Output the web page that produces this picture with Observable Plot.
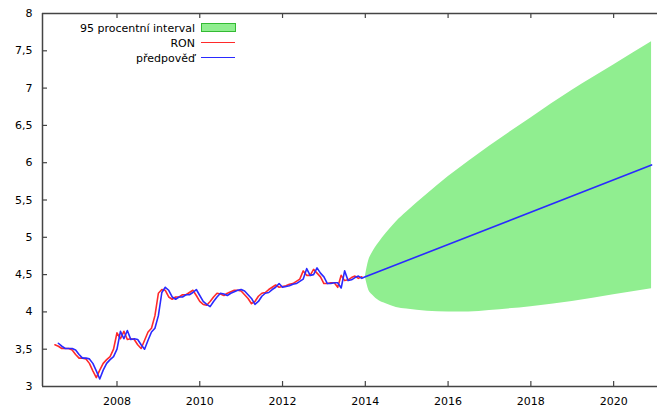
<!DOCTYPE html>
<html><head><meta charset="utf-8">
<script src="https://cdn.jsdelivr.net/npm/d3@7"></script>
<script src="https://cdn.jsdelivr.net/npm/@observablehq/plot@0.6"></script>
<style>
body{margin:0;background:#fff;}
#chart{position:relative;width:657px;height:415px;font-family:"DejaVu Sans",sans-serif;font-size:11px;color:#000;}
#chart svg{display:block;}
.row{position:absolute;left:0;width:195px;height:15px;line-height:15px;text-align:right;white-space:nowrap;}
.sw{position:absolute;left:201px;width:34px;}
</style>
</head><body><div id="chart"></div>
<script>
// monthly series, first value = July 2006
const ronStart = 2006.5;
const ron = [
 3.56,3.54,3.51,3.51,3.51,3.49,3.43,3.38,3.38,3.37,
 3.31,3.21,3.12,3.22,3.31,3.36,3.40,3.50,3.72,3.64,
 3.74,3.63,3.64,3.63,3.56,3.51,3.62,3.73,3.78,3.95,
 4.25,4.30,4.29,4.20,4.17,4.20,4.20,4.23,4.23,4.26,
 4.29,4.22,4.14,4.10,4.09,4.14,4.20,4.25,4.24,4.22,
 4.25,4.27,4.29,4.29,4.28,4.23,4.18,4.11,4.14,4.21,
 4.25,4.26,4.30,4.33,4.36,4.33,4.34,4.35,4.37,4.38,
 4.41,4.44,4.55,4.49,4.49,4.57,4.52,4.47,4.38,4.38,
 4.39,4.39,4.33,4.49,4.42,4.43,4.46,4.48,4.45,4.47
];
// one-step predictions, first value = August 2006, last = January 2014
const fittedStart = 2006.5 + 1/12;
const fitted = [
 3.58,3.54,3.51,3.51,3.51,3.49,3.43,3.38,3.38,3.37,
 3.31,3.21,3.10,3.22,3.31,3.36,3.40,3.50,3.74,3.64,
 3.75,3.63,3.64,3.63,3.56,3.50,3.62,3.73,3.78,3.95,
 4.26,4.33,4.29,4.20,4.17,4.20,4.20,4.23,4.23,4.26,
 4.30,4.22,4.14,4.10,4.07,4.14,4.20,4.25,4.24,4.22,
 4.25,4.27,4.29,4.30,4.28,4.23,4.18,4.10,4.14,4.21,
 4.25,4.26,4.30,4.33,4.38,4.33,4.34,4.35,4.37,4.38,
 4.41,4.44,4.58,4.49,4.50,4.59,4.52,4.47,4.38,4.38,
 4.39,4.39,4.32,4.55,4.42,4.43,4.46,4.48,4.45,4.47
];
// forecast end point (December 2020)
const forecastEndTime = 2020 + 11/12;
const forecastEndValue = 5.97;
// 95 % interval, months after January 2014
const bandMonths = [0,1,2,4,6,9,12,18,24,30,36,48,60,72,83];
const bandUpper  = [4.47,4.69,4.79,4.93,5.05,5.21,5.34,5.58,5.81,6.02,6.22,6.60,6.97,7.31,7.62];
const bandLower  = [4.47,4.29,4.23,4.15,4.11,4.06,4.04,4.01,4.00,4.00,4.02,4.07,4.14,4.23,4.31];
const xTicks = [2008,2010,2012,2014,2016,2018,2020];
const yTicks = [3,3.5,4,4.5,5,5.5,6,6.5,7,7.5,8];
const legendLabels = ["95 procentní interval","RON","předpověď"];

// build tables
const ronData = ron.map((v,i)=>({t: ronStart + i/12, v}));
const blueData = fitted.map((v,i)=>({t: fittedStart + i/12, v}));
blueData.push({t: forecastEndTime, v: forecastEndValue});
const band = bandMonths.map((m,i)=>({t: 2014 + m/12, hi: bandUpper[i], lo: bandLower[i]}));

const W = 657, H = 415, mL = 42, mR = 0, mT = 13, mB = 29;
const plotW = W - mL - mR, plotH = H - mT - mB;
const tickLen = 5;
const frame = "#444";
const xDom = [2006.2, 2021.06];

const svg = Plot.plot({
  width: W, height: H,
  marginLeft: mL, marginRight: mR, marginTop: mT, marginBottom: mB,
  style: {fontFamily: "DejaVu Sans, sans-serif", fontSize: "11px", color: "#000", background: "#fff", overflow: "visible"},
  x: {domain: xDom, axis: null},
  y: {domain: [3, 8], axis: null},
  marks: [
    Plot.areaY(band, {x: "t", y1: "lo", y2: "hi", fill: "#90ee90", curve: "monotone-x"}),
    Plot.line(ronData, {x: "t", y: "v", stroke: "#ff2a2a", strokeWidth: 1.6}),
    Plot.line(blueData, {x: "t", y: "v", stroke: "#2a2aff", strokeWidth: 1.6}),
    Plot.ruleY([3, 8], {stroke: frame, strokeWidth: 1.5}),
    Plot.ruleX([xDom[0]], {stroke: frame, strokeWidth: 1.5}),
    Plot.ruleY(yTicks.slice(1, -1), {y: d => d, stroke: frame, strokeWidth: 1.2, insetRight: plotW - tickLen}),
    Plot.ruleX(xTicks, {x: d => d, stroke: frame, strokeWidth: 1.2, insetTop: plotH - tickLen}),
    Plot.ruleX(xTicks, {x: d => d, stroke: frame, strokeWidth: 1.2, insetBottom: plotH - tickLen}),
    Plot.text(yTicks, {y: d => d, frameAnchor: "left", dx: -10, textAnchor: "end", text: d => String(d).replace(".", ","), fill: "#000"}),
    Plot.text(xTicks, {x: d => d, frameAnchor: "bottom", dy: 18.5, text: d => String(d), fill: "#000"})
  ]
});
const root = document.getElementById("chart");
root.appendChild(svg);

// legend
const rowCenters = [28, 43, 58];
legendLabels.forEach((lab, i) => {
  const r = document.createElement("div");
  r.className = "row";
  r.style.top = (rowCenters[i] - 7.5) + "px";
  r.textContent = lab;
  root.appendChild(r);
});
const sw1 = document.createElement("div");
sw1.className = "sw";
sw1.style.cssText += "top:22.5px;height:7px;background:#90ee90;border:1px solid #33bb33;width:33px;";
root.appendChild(sw1);
const sw2 = document.createElement("div");
sw2.className = "sw";
sw2.style.cssText += "top:41.5px;height:1.6px;background:#ff2a2a;";
root.appendChild(sw2);
const sw3 = document.createElement("div");
sw3.className = "sw";
sw3.style.cssText += "top:56.5px;height:1.6px;background:#2a2aff;";
root.appendChild(sw3);
</script>
</body></html>
